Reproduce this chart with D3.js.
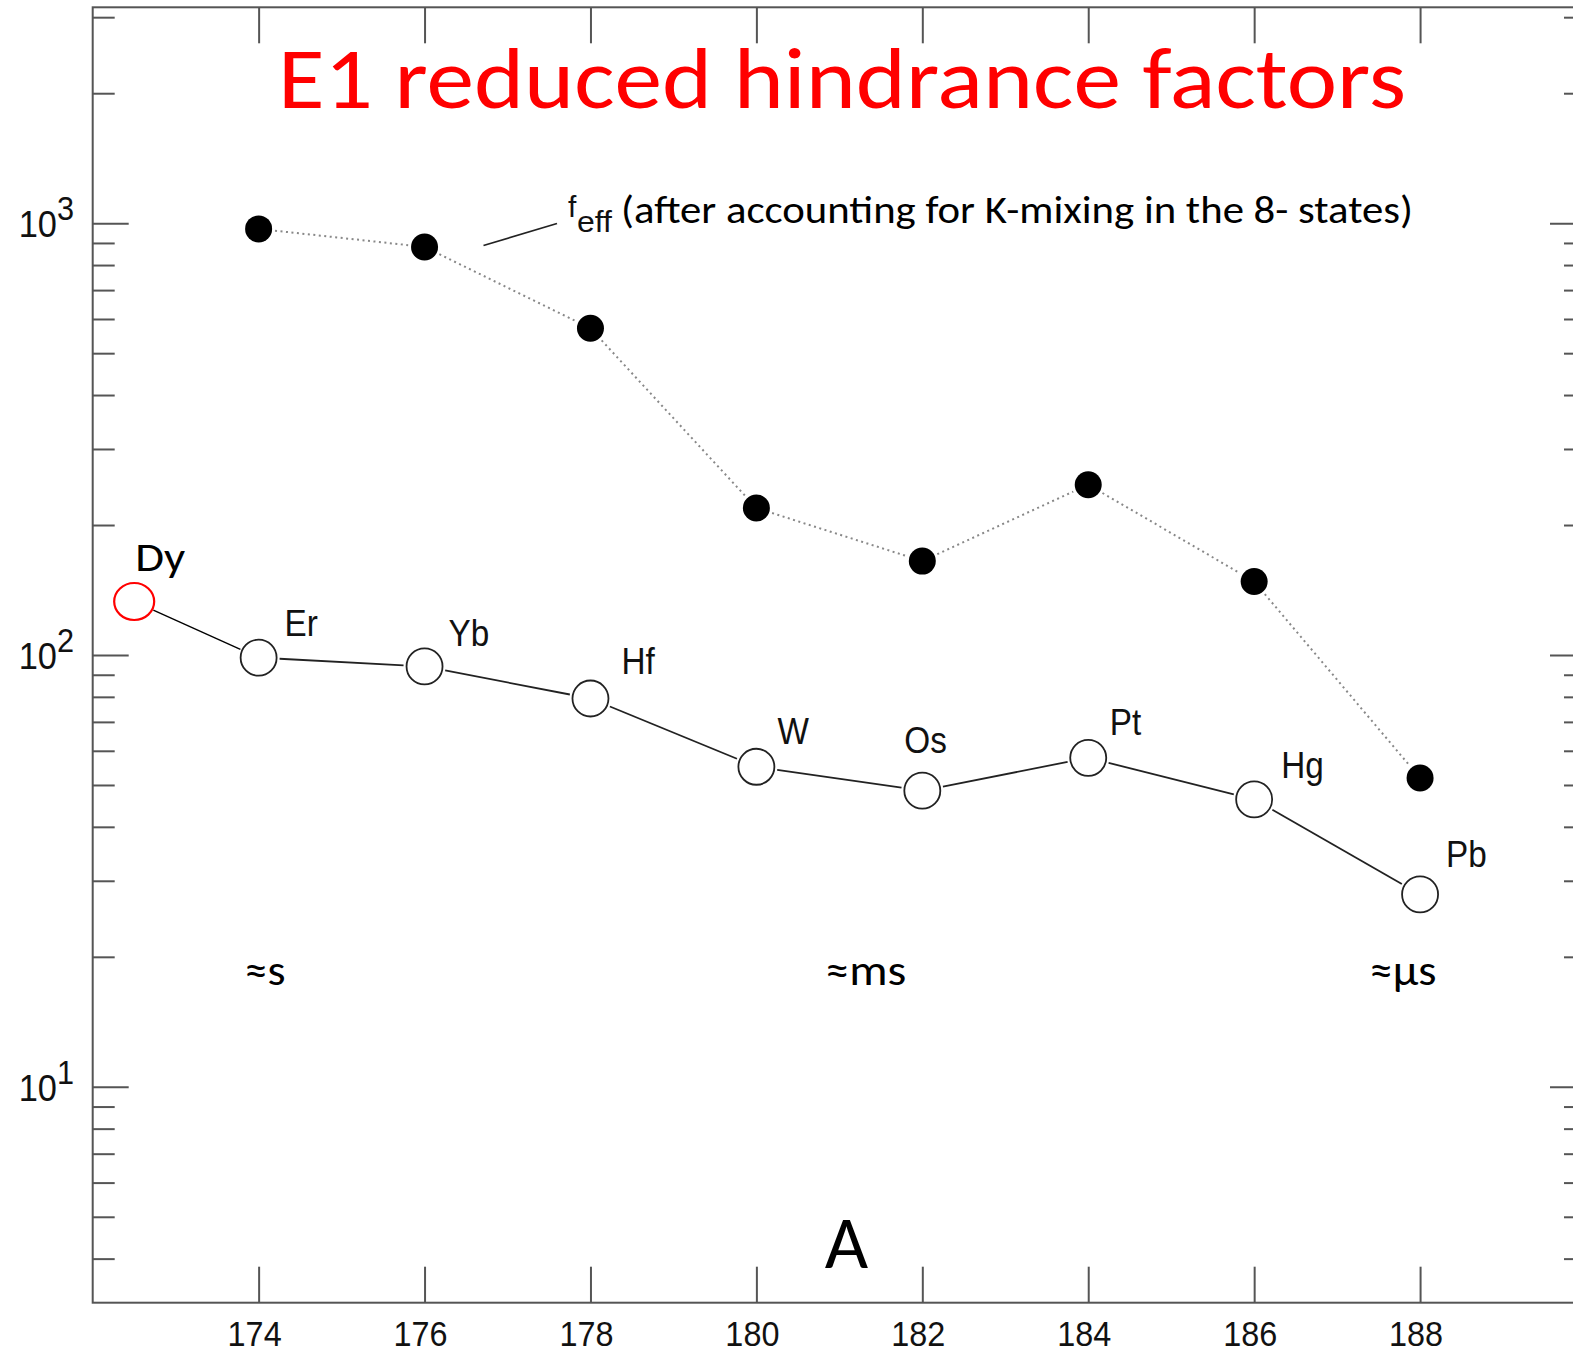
<!DOCTYPE html>
<html>
<head>
<meta charset="utf-8">
<script src="https://cdn.jsdelivr.net/npm/d3@7"></script>
<style>
  html, body { margin: 0; padding: 0; background: #fff; }
  svg { display: block; }
</style>
</head>
<body>
<script>
// ---------------- data ----------------
const massNumbers = [174, 176, 178, 180, 182, 184, 186, 188];
const elements = ["Er", "Yb", "Hf", "W", "Os", "Pt", "Hg", "Pb"];
const reducedHindrance = [98.6, 94.1, 79.3, 55.1, 48.5, 57.8, 46.3, 27.9];
const fEffValues = [970, 881, 571, 219, 165, 248, 148, 51.9];
const dyMass = [172.5];
const dyValue = [133];
const dyLabel = ["Dy"];
const xTickValues = [174, 176, 178, 180, 182, 184, 186, 188];
const yMajorTicks = [10, 100, 1000];
const yMajorExponents = ["1", "2", "3"];
const lifetimeLabels = ["≈s", "≈ms", "≈µs"];
const lifetimeMass = [174.0, 181.0, 187.56];
const titleText = "E1 reduced hindrance factors";
const annotationText = "(after accounting for K-mixing in the 8- states)";
const panelLetter = "A";

// ---------------- layout ----------------
const W = 1573, H = 1352;
const plot = { left: 92.7, right: 1586, top: 7.3, bottom: 1302.7 };
const labelOffset = {
  Er: [26, -22], Yb: [24, -20], Hf: [31, -24], W: [21, -23],
  Os: [-18, -38], Pt: [21.5, -23], Hg: [27, -21], Pb: [26, -27]
};
const helv = "'Liberation Sans', Arial, Helvetica, sans-serif";
const cali = "Carlito, Calibri, Lato, 'Open Sans', sans-serif";

const svg = d3.select("body").append("svg")
  .attr("width", W).attr("height", H)
  .attr("viewBox", `0 0 ${W} ${H}`);
svg.append("rect").attr("width", W).attr("height", H).attr("fill", "#fff");

const x = d3.scaleLinear().domain([172, 190]).range([plot.left, plot.right]);
const y = d3.scaleLog().domain([Math.pow(10, 0.5), Math.pow(10, 3.5)]).range([plot.bottom, plot.top]);

// ---------------- frame & ticks ----------------
svg.append("rect")
  .attr("x", plot.left).attr("y", plot.top)
  .attr("width", plot.right - plot.left).attr("height", plot.bottom - plot.top)
  .attr("fill", "none").attr("stroke", "#555").attr("stroke-width", 2);

const allYTicks = y.ticks();
const isMajor = v => yMajorTicks.indexOf(v) >= 0;
const minorY = allYTicks.filter(v => !isMajor(v));

function yAxisSide(gen, xpos, size) {
  return svg.append("g").attr("transform", `translate(${xpos},0)`)
    .call(gen.tickSize(size).tickFormat(""))
    .call(g => g.select(".domain").remove())
    .call(g => g.selectAll("line").attr("stroke", "#555").attr("stroke-width", 2));
}
yAxisSide(d3.axisRight(y).tickValues(yMajorTicks), plot.left, 36);
yAxisSide(d3.axisRight(y).tickValues(minorY), plot.left, 22);
yAxisSide(d3.axisLeft(y).tickValues(yMajorTicks), plot.right, 36);
yAxisSide(d3.axisLeft(y).tickValues(minorY), plot.right, 22);

function xAxisSide(gen, ypos) {
  return svg.append("g").attr("transform", `translate(0,${ypos})`)
    .call(gen.tickValues(xTickValues).tickSize(36).tickFormat(""))
    .call(g => g.select(".domain").remove())
    .call(g => g.selectAll("line").attr("stroke", "#555").attr("stroke-width", 2));
}
xAxisSide(d3.axisTop(x), plot.bottom);
xAxisSide(d3.axisBottom(x), plot.top);

// y tick labels (10^n)
yMajorTicks.forEach((v, i) => {
  const g = svg.append("g").attr("transform", `translate(74,${y(v) + 14}) scale(0.93,1)`);
  const t = g.append("text").attr("text-anchor", "end")
    .attr("font-family", helv).attr("font-size", 37).attr("fill", "#111");
  t.append("tspan").text("10");
  t.append("tspan").attr("dy", -17).attr("font-size", 33).text(yMajorExponents[i]);
});

// x tick labels
xTickValues.forEach(v => {
  svg.append("g").attr("transform", `translate(${x(v) - 4},1346) scale(0.9,1)`)
    .append("text").attr("text-anchor", "middle")
    .attr("font-family", helv).attr("font-size", 36).attr("fill", "#111")
    .text(v);
});

// ---------------- helpers ----------------
function trimmedSegments(pts, r0, r1, gap) {
  const segs = [];
  for (let i = 0; i < pts.length - 1; i++) {
    const a = pts[i], b = pts[i + 1];
    const dx = b[0] - a[0], dy = b[1] - a[1];
    const L = Math.hypot(dx, dy);
    const ux = dx / L, uy = dy / L;
    const ra = (i === 0 && r0 != null ? r0 : r1) + gap;
    const rb = r1 + gap;
    segs.push([[a[0] + ux * ra, a[1] + uy * ra], [b[0] - ux * rb, b[1] - uy * rb]]);
  }
  return segs;
}

// ---------------- f_eff series (filled, dotted) ----------------
const fPts = massNumbers.map((m, i) => [x(m), y(fEffValues[i])]);
svg.append("g").selectAll("line")
  .data(trimmedSegments(fPts, 13.5, 13.5, 3))
  .join("line")
  .attr("x1", d => d[0][0]).attr("y1", d => d[0][1])
  .attr("x2", d => d[1][0]).attr("y2", d => d[1][1])
  .attr("stroke", "#888").attr("stroke-width", 2)
  .attr("stroke-dasharray", "2,3.5");
svg.append("g").selectAll("circle")
  .data(fPts).join("circle")
  .attr("cx", d => d[0]).attr("cy", d => d[1]).attr("r", 13.5)
  .attr("fill", "#000");

// ---------------- reduced hindrance series (open, solid) ----------------
const dyPt = [x(dyMass[0]), y(dyValue[0])];
const hPts = massNumbers.map((m, i) => [x(m), y(reducedHindrance[i])]);
const dySeg = trimmedSegments([dyPt, hPts[0]], 19, 18, 2)[0];
svg.append("line")
  .attr("x1", dySeg[0][0]).attr("y1", dySeg[0][1])
  .attr("x2", dySeg[1][0]).attr("y2", dySeg[1][1])
  .attr("stroke", "#000").attr("stroke-width", 1.4);
svg.append("g").selectAll("line")
  .data(trimmedSegments(hPts, 18, 18, 3))
  .join("line")
  .attr("x1", d => d[0][0]).attr("y1", d => d[0][1])
  .attr("x2", d => d[1][0]).attr("y2", d => d[1][1])
  .attr("stroke", "#222").attr("stroke-width", 1.8);
svg.append("g").selectAll("circle")
  .data(hPts).join("circle")
  .attr("cx", d => d[0]).attr("cy", d => d[1]).attr("r", 18)
  .attr("fill", "#fff").attr("stroke", "#222").attr("stroke-width", 1.8);

// Dy red ellipse
svg.append("ellipse")
  .attr("cx", dyPt[0]).attr("cy", dyPt[1]).attr("rx", 20).attr("ry", 18.5)
  .attr("fill", "none").attr("stroke", "#f00").attr("stroke-width", 2.2);
svg.append("text")
  .attr("x", dyPt[0] + 1).attr("y", dyPt[1] - 31)
  .attr("font-family", cali).attr("font-size", 42).attr("fill", "#000")
  .attr("textLength", 50).attr("lengthAdjust", "spacingAndGlyphs")
  .text(dyLabel[0]);

// element labels
elements.forEach((el, i) => {
  const off = labelOffset[el];
  svg.append("g")
    .attr("transform", `translate(${hPts[i][0] + off[0]},${hPts[i][1] + off[1]}) scale(0.9,1)`)
    .append("text")
    .attr("font-family", helv).attr("font-size", 37).attr("fill", "#111")
    .text(el);
});

// ---------------- annotations ----------------
svg.append("text")
  .attr("x", 278).attr("y", 108)
  .attr("font-family", cali).attr("font-size", 86).attr("fill", "#ff0000")
  .attr("textLength", 1128).attr("lengthAdjust", "spacingAndGlyphs")
  .text(titleText);

// f_eff leader + label
svg.append("line")
  .attr("x1", 483.5).attr("y1", 245.5).attr("x2", 557).attr("y2", 223.5)
  .attr("stroke", "#222").attr("stroke-width", 1.8);
const fl = svg.append("text").attr("font-family", helv).attr("fill", "#111");
fl.append("tspan").attr("x", 568).attr("y", 217).attr("font-size", 30).text("f");
fl.append("tspan").attr("x", 577).attr("y", 232).attr("font-size", 30)
  .attr("textLength", 35).attr("lengthAdjust", "spacingAndGlyphs").text("eff");
svg.append("text")
  .attr("x", 621).attr("y", 223)
  .attr("font-family", cali).attr("font-size", 39).attr("fill", "#000")
  .attr("textLength", 792).attr("lengthAdjust", "spacingAndGlyphs")
  .text(annotationText);

// lifetime labels
const lifetimeWidths = [41, 81, 67];
lifetimeLabels.forEach((t, i) => {
  svg.append("text")
    .attr("x", x(lifetimeMass[i]) - 14).attr("y", 985)
    .attr("font-family", cali).attr("font-size", 44).attr("fill", "#000")
    .attr("textLength", lifetimeWidths[i]).attr("lengthAdjust", "spacingAndGlyphs")
    .text(t);
});

// panel letter
svg.append("text")
  .attr("x", 846.5).attr("y", 1268)
  .attr("text-anchor", "middle")
  .attr("font-family", cali).attr("font-size", 75).attr("fill", "#000")
  .text(panelLetter);
</script>
</body>
</html>
